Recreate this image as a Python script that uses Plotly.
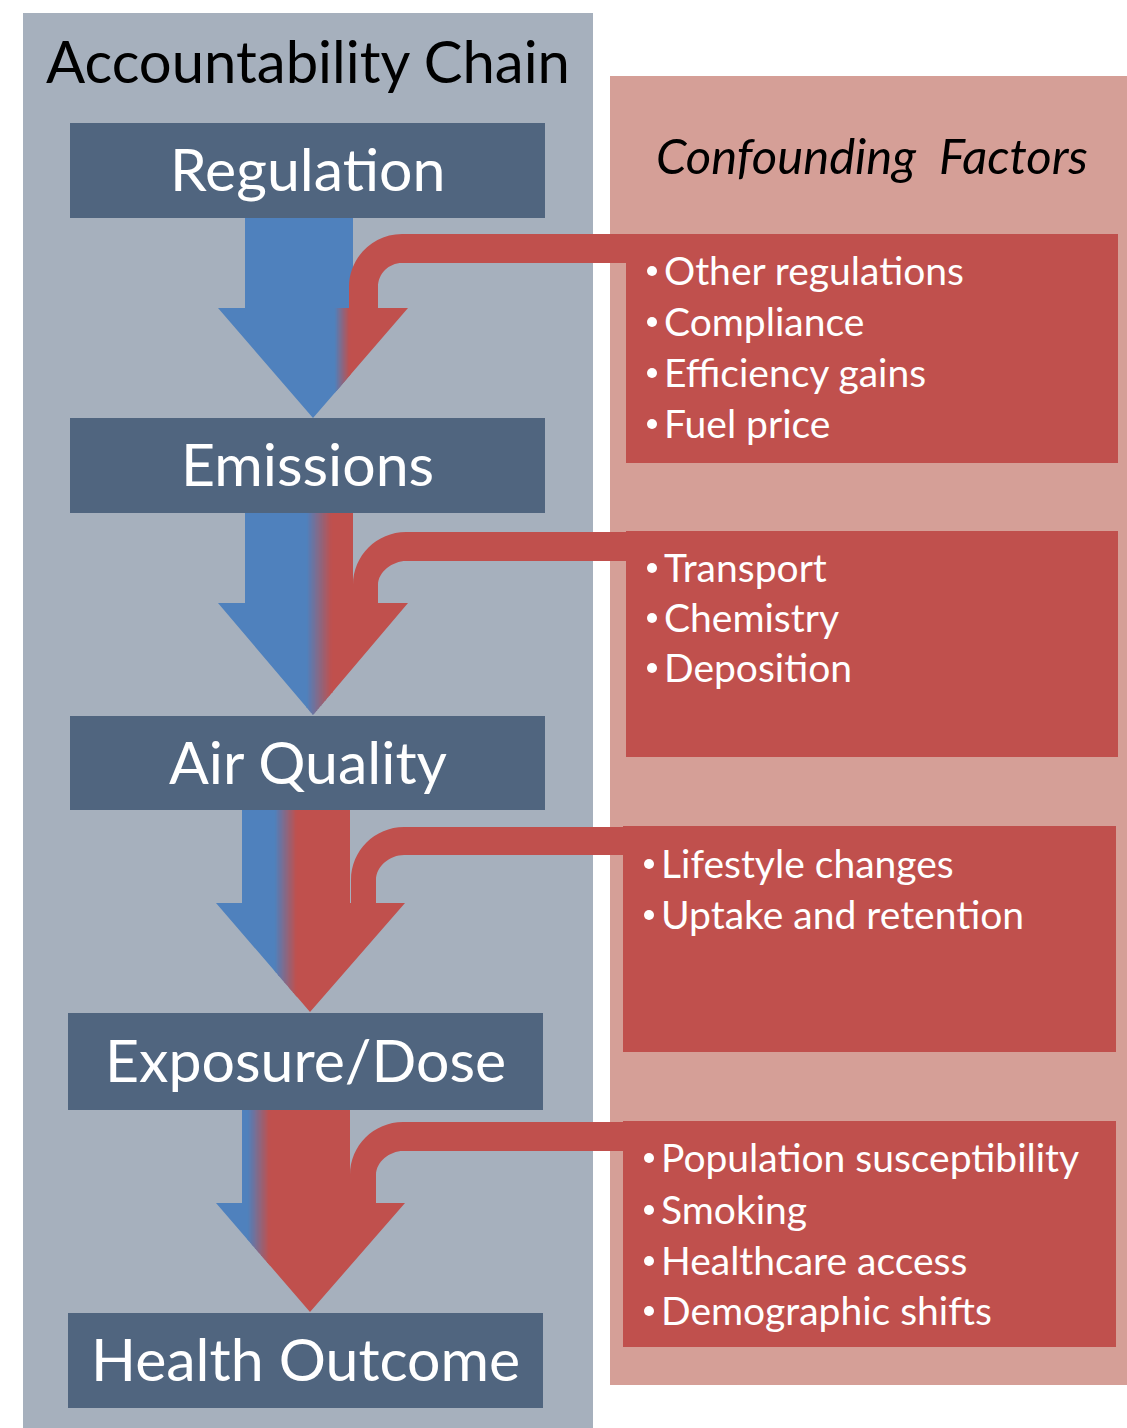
import plotly.graph_objects as go

# --- diagram content ---
stages = ["Regulation", "Emissions", "Air Quality", "Exposure/Dose", "Health Outcome"]
factors_emissions = ["Other regulations", "Compliance", "Efficiency gains", "Fuel price"]
factors_air = ["Transport", "Chemistry", "Deposition"]
factors_exposure = ["Lifestyle changes", "Uptake and retention"]
factors_health = ["Population susceptibility", "Smoking", "Healthcare access", "Demographic shifts"]
factor_lists = [factors_emissions, factors_air, factors_exposure, factors_health]

# --- layout geometry (page pixels, y downwards) ---
W, H = 1127, 1428
BLUE = (79, 129, 189)
RED = (192, 80, 77)
stage_boxes = [(70, 545, 123, 218), (70, 545, 418, 513), (70, 545, 716, 810),
               (68, 543, 1013, 1110), (68, 543, 1313, 1408)]
factor_boxes = [(626, 1118, 234, 463), (626, 1118, 531, 757),
                (623, 1116, 826, 1052), (623, 1116, 1121, 1347)]
# shaft l/r, head l/r, tip x, shaft top, head y, tip y
down_arrows = [(245, 353, 218, 408, 313, 218, 308, 418),
               (245, 353, 218, 408, 313, 513, 603, 715),
               (242, 350, 216, 405, 310, 810, 903, 1012),
               (242, 350, 216, 405, 310, 1110, 1203, 1312)]
blend = [(335, 350), (307, 332), (275, 297), (248, 270)]
blue_shaft = [True, False, False, False]
# band top, thickness, outer x, inner x, head y
bent_arrows = [(234, 29, 349, 378, 308), (532, 29, 353, 378, 603),
               (827, 28, 351, 376, 903), (1122, 29, 350, 376, 1203)]
bullet_y = [[270, 321, 372, 423], [567, 617, 667], [863, 914], [1157, 1209, 1260, 1310]]


def rgb(c):
    return "rgb(%d,%d,%d)" % tuple(int(round(v)) for v in c)


def to_path(pts):
    return "M " + " L ".join(f"{x:.2f},{y:.2f}" for x, y in pts) + " Z"


def clip_side(pts, x0, keep_right):
    out = []
    for i in range(len(pts)):
        cur, prev = pts[i], pts[i - 1]
        cin = cur[0] >= x0 if keep_right else cur[0] <= x0
        pin = prev[0] >= x0 if keep_right else prev[0] <= x0
        if cin != pin:
            t = (x0 - prev[0]) / (cur[0] - prev[0])
            out.append((x0, prev[1] + t * (cur[1] - prev[1])))
        if cin:
            out.append(cur)
    return out


def clip(pts, xmin, xmax):
    return clip_side(clip_side(pts, xmin, True), xmax, False)


shapes = []


def add_poly(pts, color):
    if len(pts) >= 3:
        shapes.append(dict(type="path", path=to_path(pts), fillcolor=color,
                           line=dict(width=0), layer="above"))


def add_rect(x0, x1, y0, y1, color):
    shapes.append(dict(type="rect", x0=x0, x1=x1, y0=y0, y1=y1,
                       fillcolor=color, line=dict(width=0), layer="above"))


# backgrounds
add_rect(23, 593, 13, H + 5, "#a6b0bd")
add_rect(610, W + 5, 76, 1385, "#d59f97")

# gradient down arrows
for i, (sl, sr, hl, hr, tx, st, hy, ty) in enumerate(down_arrows):
    poly = [(sl, st), (sr, st), (sr, hy), (hr, hy), (tx, ty), (hl, hy), (sl, hy)]
    g0, g1 = blend[i]
    add_poly(clip(poly, 0, g0 + 0.5), rgb(BLUE))
    add_poly(clip(poly, g1 - 0.5, W), rgb(RED))
    n = 18
    for k in range(n):
        a = g0 + (g1 - g0) * k / n
        b = g0 + (g1 - g0) * (k + 1) / n
        t = (k + 0.5) / n
        col = tuple(BLUE[j] + (RED[j] - BLUE[j]) * t for j in range(3))
        add_poly(clip(poly, a - 0.4, b + 0.4), rgb(col))
    if blue_shaft[i]:
        add_rect(sl, sr, st, hy, rgb(BLUE))

# bent red arrows feeding in from the confounders
K = 0.5523
for band_top, th, xo, xi, hy in bent_arrows:
    ro = 53
    ri = ro - th
    cx, cy = xo + ro, band_top + ro
    band_bot = band_top + th
    xend = 645
    p = (f"M {xend},{band_top} L {cx},{band_top} "
         f"C {cx - K * ro},{band_top} {xo},{cy - K * ro} {xo},{cy} "
         f"L {xo},{hy + 1} L {xi},{hy + 1} L {xi},{cy} "
         f"C {xi},{cy - K * ri} {cx - K * ri},{band_bot} {cx},{band_bot} "
         f"L {xend},{band_bot} Z")
    shapes.append(dict(type="path", path=p, fillcolor=rgb(RED),
                       line=dict(width=0), layer="above"))

# stage boxes and factor boxes
for x0, x1, y0, y1 in stage_boxes:
    add_rect(x0, x1, y0, y1, "#50657f")
for x0, x1, y0, y1 in factor_boxes:
    add_rect(x0, x1, y0, y1, rgb(RED))

annotations = [
    dict(x=308, y=60, text="Accountability Chain", showarrow=False,
         font=dict(family="Lato", size=58, color="black"), xanchor="center", yanchor="middle"),
    dict(x=872, y=155, text="<i>Confounding \u00a0Factors</i>", showarrow=False,
         font=dict(family="Lato", size=49, color="black"), xanchor="center", yanchor="middle"),
]
for name, (x0, x1, y0, y1) in zip(stages, stage_boxes):
    annotations.append(dict(x=(x0 + x1) / 2, y=(y0 + y1) / 2 - 2, text=name, showarrow=False,
                            font=dict(family="Lato", size=59, color="white"),
                            xanchor="center", yanchor="middle"))
for items, ys, (x0, x1, y0, y1) in zip(factor_lists, bullet_y, factor_boxes):
    for item, yy in zip(items, ys):
        # bullet dot
        shapes.append(dict(type="circle", x0=x0 + 21, x1=x0 + 31, y0=yy - 4, y1=yy + 6,
                           fillcolor="white", line=dict(width=0), layer="above"))
        annotations.append(dict(x=x0 + 36, y=yy, text=item, showarrow=False,
                                font=dict(family="Lato", size=39, color="white"),
                                xanchor="left", yanchor="middle"))

fig = go.Figure()
fig.update_layout(
    width=W, height=H,
    margin=dict(l=0, r=0, t=0, b=0),
    paper_bgcolor="white", plot_bgcolor="white",
    xaxis=dict(range=[0, W], visible=False, fixedrange=True),
    yaxis=dict(range=[H, 0], visible=False, fixedrange=True),
    shapes=shapes, annotations=annotations, showlegend=False,
)
# drop the default 8px body margin so page pixels match figure pixels
fig.write_html("out.html", config={"displayModeBar": False}, post_script=(
    "document.body.style.margin = '0';"
    "document.documentElement.style.overflow = 'hidden';"))
